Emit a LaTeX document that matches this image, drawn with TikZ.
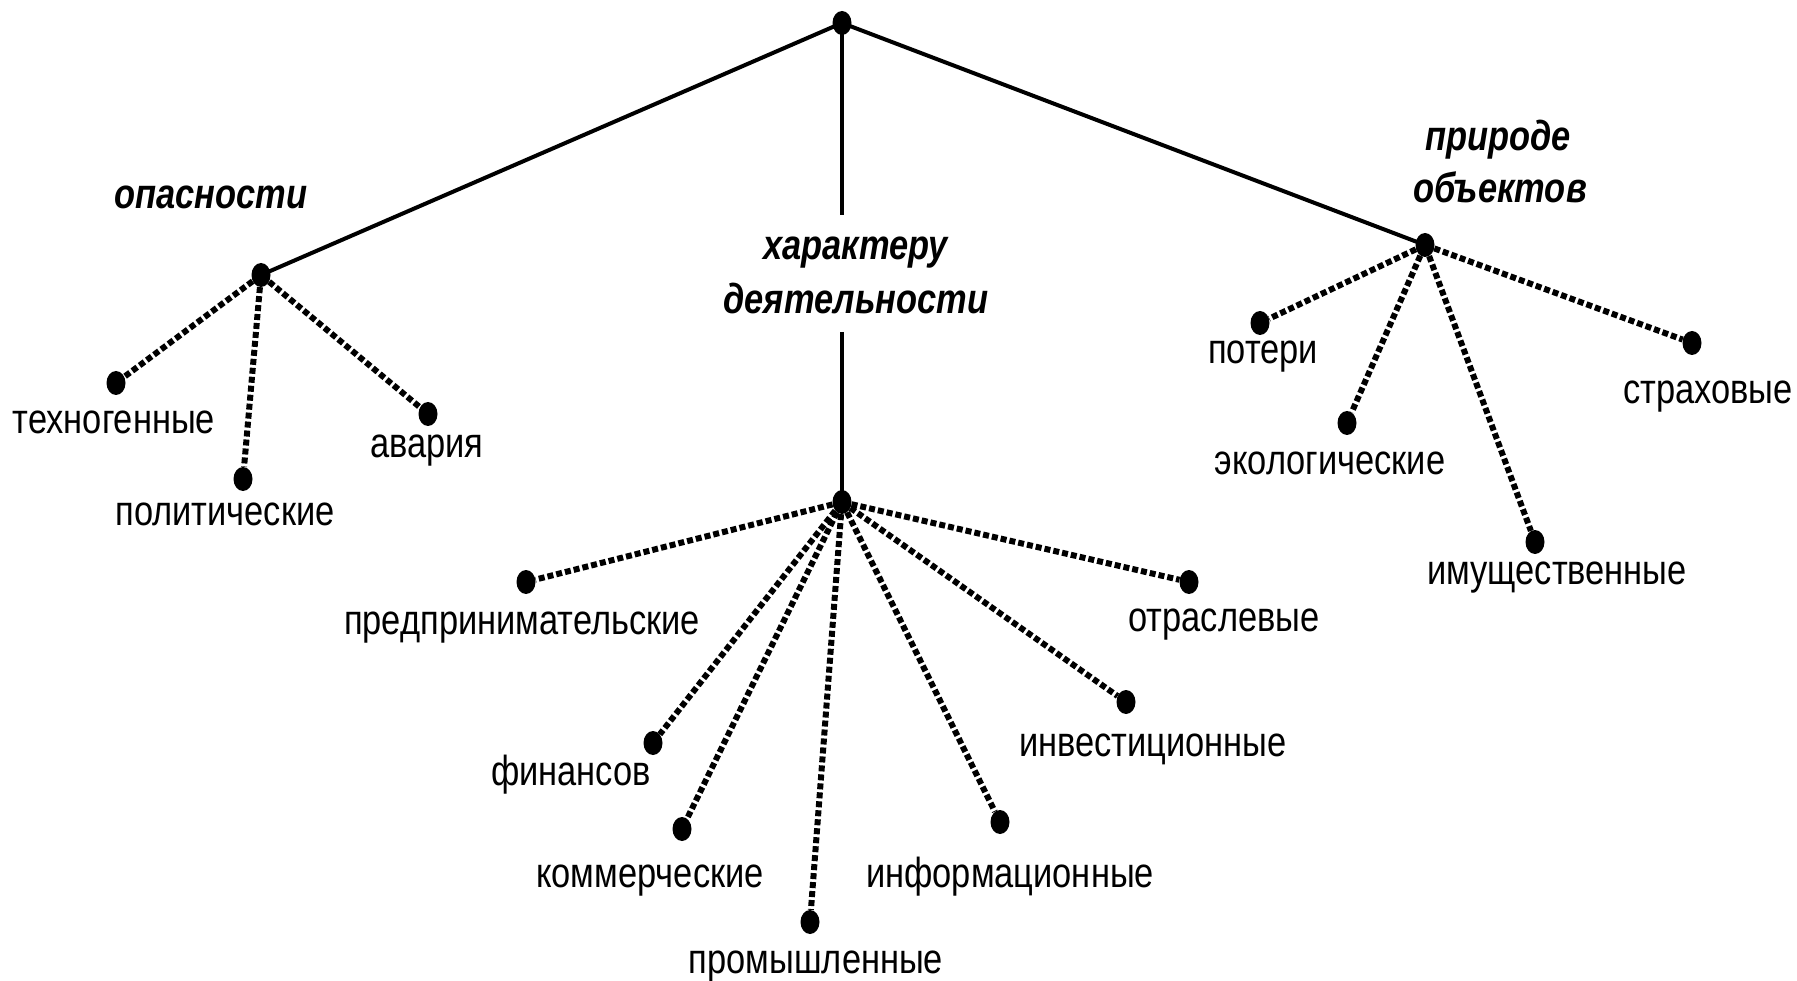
\documentclass[tikz,border=0pt]{standalone}
\usepackage{fontspec}
\newfontfamily\labfont[FakeStretch=0.82]{Liberation Sans}
\usetikzlibrary{shapes.geometric}
\tikzset{
  dotnode/.style={ellipse, fill=black, minimum width=19pt, minimum height=24pt, inner sep=0pt},
  solidline/.style={line width=4pt},
  dotline/.style={line width=6pt, dash pattern=on 6pt off 3pt},
  leaf/.style={font=\labfont\fontsize{42}{50}\selectfont, anchor=base, inner sep=0pt},
  cat/.style={font=\labfont\bfseries\itshape\fontsize{42}{54}\selectfont, inner sep=0pt, align=center},
}
\begin{document}
\begin{tikzpicture}[x=1pt, y=-1pt]
\useasboundingbox (0,0) rectangle (1797,981);
% dots
\node[dotnode] (root) at (842,23) {};
\node[dotnode] (op) at (261,275) {};
\node[dotnode] (ha) at (842,502) {};
\node[dotnode] (pr) at (1425,245) {};
\node[dotnode] (d1) at (116,383) {};
\node[dotnode] (d2) at (243,479) {};
\node[dotnode] (d3) at (428,414) {};
\node[dotnode] (e1) at (1260,323) {};
\node[dotnode] (e2) at (1347,423) {};
\node[dotnode] (e3) at (1535,542) {};
\node[dotnode] (e4) at (1692,343) {};
\node[dotnode] (m1) at (526,582) {};
\node[dotnode] (m2) at (653,743) {};
\node[dotnode] (m3) at (682,829) {};
\node[dotnode] (m4) at (810,922) {};
\node[dotnode] (m5) at (1000,822) {};
\node[dotnode] (m6) at (1126,702) {};
\node[dotnode] (m7) at (1189,582) {};
% category labels
\node[cat, anchor=base] (topas) at (211,209) {опасности};
\node[cat, text height=34pt, text depth=12pt] (tha) at (856,303) {характеру\\деятельности};
\node[cat, anchor=base] (tpr1) at (1498,151) {природе};
\node[cat, anchor=base] (tpr2) at (1500,203) {объектов};
% leaf labels
\node[leaf] (l1) at (114,434) {техногенные};
\node[leaf] (l2) at (225,525) {политические};
\node[leaf] (l3) at (427,457) {авария};
\node[leaf] (r1) at (1263,364) {потери};
\node[leaf] (r2) at (1330,475) {экологические};
\node[leaf] (r3) at (1557,584) {имущественные};
\node[leaf] (r4) at (1708,404) {страховые};
\node[leaf] (c1) at (522,634) {предпринимательские};
\node[leaf] (c2) at (571,785) {финансов};
\node[leaf] (c3) at (650,887) {коммерческие};
\node[leaf] (c4) at (816,973) {промышленные};
\node[leaf] (c5) at (1010,887) {информационные};
\node[leaf] (c6) at (1153,756) {инвестиционные};
\node[leaf] (c7) at (1224,631) {отраслевые};
% solid connectors
\coordinate (vtop) at (842,215);
\coordinate (vbot) at (842,332);
\draw[solidline] (root.center) -- (op.center);
\draw[solidline] (root.center) -- (pr.center);
\draw[solidline] (root.center) -- (vtop);
\draw[solidline] (vbot) -- (ha.center);
% dotted connectors
\foreach \t in {d1,d2,d3} \draw[dotline] (op) -- (\t);
\foreach \t in {e1,e2,e3,e4} \draw[dotline] (pr) -- (\t);
\foreach \t in {m1,m2,m3,m4,m5,m6,m7} \draw[dotline] (ha) -- (\t);
\end{tikzpicture}
\end{document}
